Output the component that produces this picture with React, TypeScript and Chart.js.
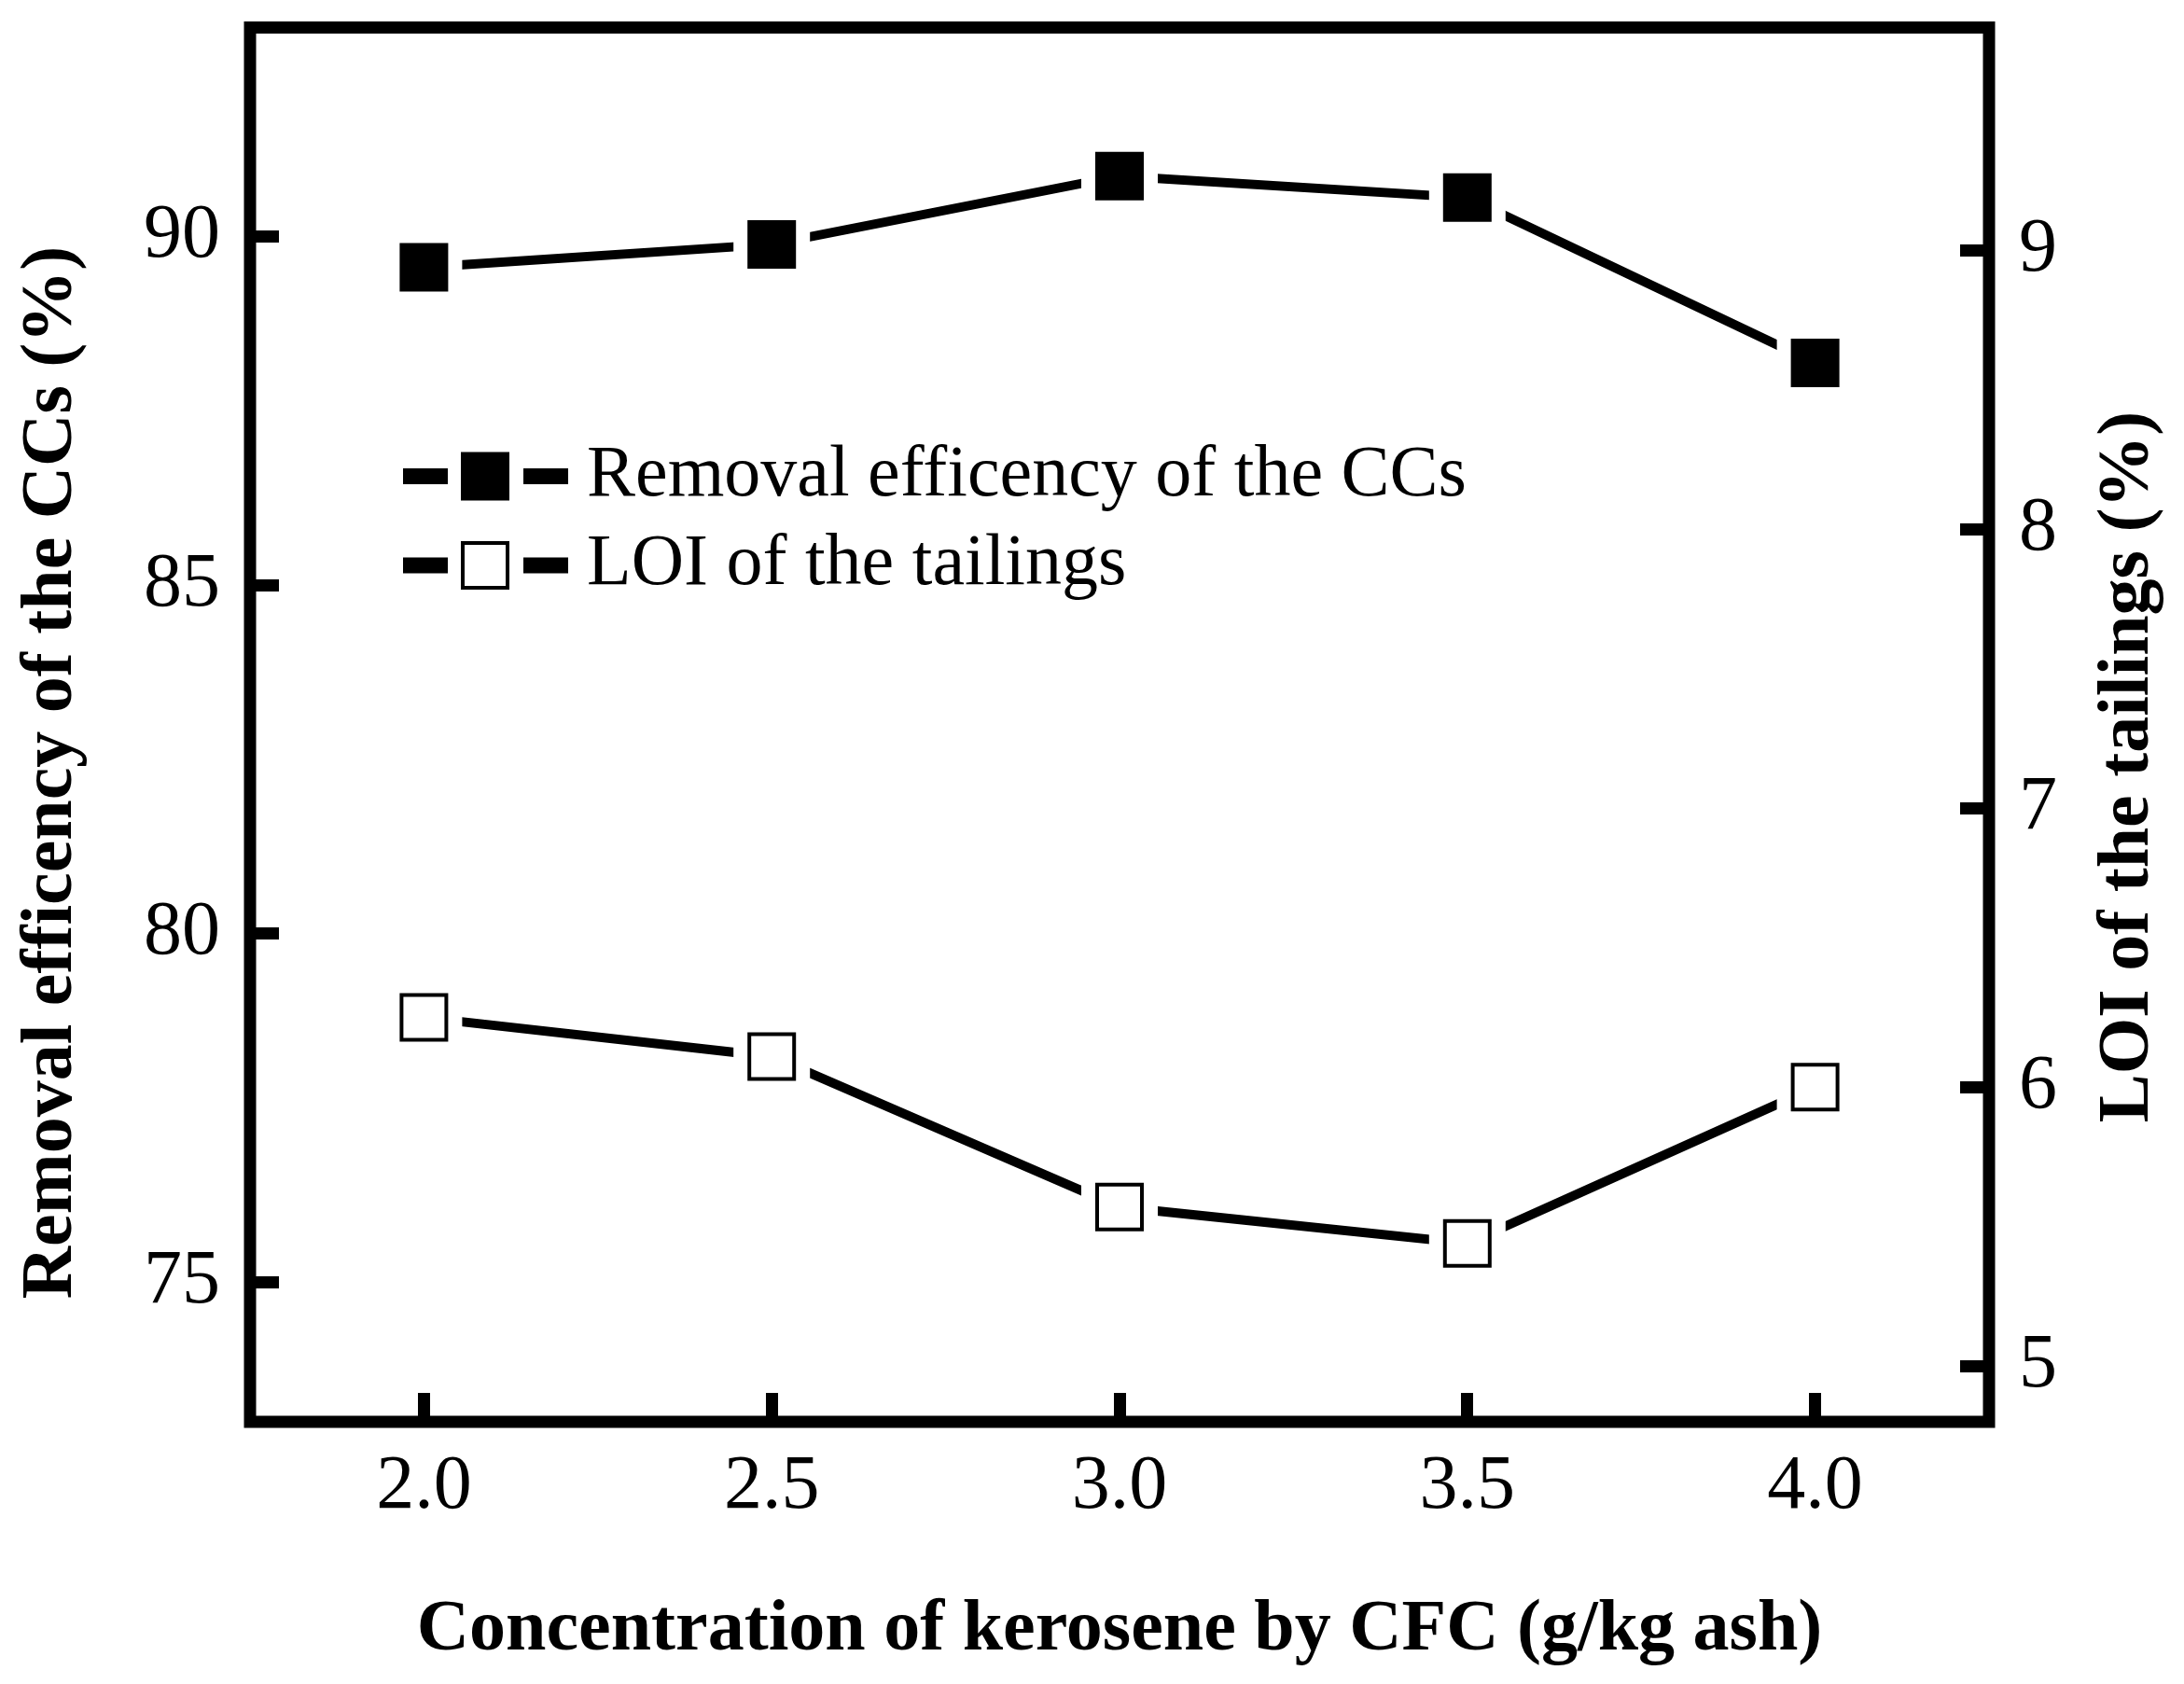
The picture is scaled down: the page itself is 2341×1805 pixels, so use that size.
import { useEffect, useRef } from 'react';
import { Chart, registerables } from 'chart.js';

Chart.register(...registerables);

// data
const concentration = [2.0, 2.5, 3.0, 3.5, 4.0];
const removalEfficiency = [89.56, 89.89, 90.87, 90.56, 88.19];
const loiTailings = [6.25, 6.11, 5.57, 5.44, 6.0];

const xTicks = [2.0, 2.5, 3.0, 3.5, 4.0];
const leftTicks = [75, 80, 85, 90];
const rightTicks = [5, 6, 7, 8, 9];

const seriesLabels = ['Removal efficency of the CCs', 'LOI of the tailings'];
const xTitle = 'Concentration of kerosene by CFC (g/kg ash)';
const leftTitle = 'Removal efficency of the CCs (%)';
const rightTitle = 'LOI of the tailings (%)';

const FONT = "'Liberation Serif', 'Times New Roman', serif";
const FRAME = 13;
const MARK = 52; // marker side in px
const GAP = 15; // white gap between line and marker

const rectRadius = (side: number) => side / Math.SQRT2;

const framePlugin = {
  id: 'frame',
  afterDraw(chart: any) {
    const { ctx, chartArea: a } = chart;
    ctx.save();
    ctx.strokeStyle = '#000';
    ctx.lineWidth = FRAME;
    ctx.lineJoin = 'miter';
    ctx.strokeRect(a.left, a.top, a.right - a.left, a.bottom - a.top);
    ctx.restore();
  },
};

const titlesPlugin = {
  id: 'titles',
  afterDraw(chart: any) {
    const { ctx, chartArea: a } = chart;
    ctx.save();
    ctx.fillStyle = '#000';
    ctx.font = `bold 78px ${FONT}`;
    ctx.textAlign = 'center';
    ctx.textBaseline = 'alphabetic';
    ctx.fillText(xTitle, (a.left + a.right) / 2, 1768);

    ctx.translate(76, 828);
    ctx.rotate(-Math.PI / 2);
    ctx.fillText(leftTitle, 0, 0);
    ctx.restore();

    ctx.save();
    ctx.fillStyle = '#000';
    ctx.font = `bold 78px ${FONT}`;
    ctx.textAlign = 'center';
    ctx.textBaseline = 'alphabetic';
    ctx.translate(2302, 822);
    ctx.rotate(-Math.PI / 2);
    ctx.fillText(rightTitle, 0, 0);
    ctx.restore();
  },
};

const legendPlugin = {
  id: 'figLegend',
  afterDraw(chart: any) {
    const { ctx, chartArea: a } = chart;
    const x0 = a.left + 164;
    ctx.save();
    ctx.font = `78px ${FONT}`;
    ctx.textBaseline = 'middle';
    ctx.textAlign = 'left';
    seriesLabels.forEach((label, i) => {
      const cy = a.top + 481 + i * 95.5;
      ctx.fillStyle = '#000';
      ctx.fillRect(x0, cy - 8.5, 48, 17);
      ctx.fillRect(x0 + 129, cy - 8.5, 48, 17);
      if (i === 0) {
        ctx.fillRect(x0 + 62, cy - MARK / 2, MARK, MARK);
      } else {
        ctx.lineWidth = 4;
        ctx.strokeStyle = '#000';
        ctx.strokeRect(x0 + 64, cy - MARK / 2 + 2, MARK - 4, MARK - 4);
      }
      ctx.fillStyle = '#000';
      ctx.fillText(label, x0 + 197, cy);
    });
    ctx.restore();
  },
};

const tickFont = { family: FONT, size: 82 };
const gridOpts = {
  drawOnChartArea: false,
  drawTicks: true,
  tickLength: -31,
  tickWidth: 13,
  color: '#000',
};

export default function App() {
  const canvasRef = useRef<HTMLCanvasElement>(null);

  useEffect(() => {
    document.body.style.margin = '0';
    if (!canvasRef.current) return;

    const removalPoints = concentration.map((x, i) => ({ x, y: removalEfficiency[i] }));
    const loiPoints = concentration.map((x, i) => ({ x, y: loiTailings[i] }));

    const chart = new Chart(canvasRef.current, {
      type: 'line',
      data: {
        datasets: [
          {
            label: seriesLabels[0],
            data: removalPoints,
            yAxisID: 'y',
            borderColor: '#000',
            borderWidth: 10,
            tension: 0,
            pointStyle: 'rect',
            pointRadius: rectRadius(MARK + GAP),
            pointBackgroundColor: '#000',
            pointBorderColor: '#fff',
            pointBorderWidth: GAP,
            order: 1,
          },
          {
            label: seriesLabels[1],
            data: loiPoints,
            yAxisID: 'y1',
            borderColor: '#000',
            borderWidth: 10,
            tension: 0,
            pointStyle: 'rect',
            pointRadius: rectRadius(MARK + GAP),
            pointBackgroundColor: '#fff',
            pointBorderColor: '#fff',
            pointBorderWidth: GAP,
            order: 1,
          },
          {
            // open square marker drawn on top of the white gap
            label: 'loi-marker',
            data: loiPoints,
            yAxisID: 'y1',
            showLine: false,
            pointStyle: 'rect',
            pointRadius: rectRadius(MARK - 4),
            pointBackgroundColor: '#fff',
            pointBorderColor: '#000',
            pointBorderWidth: 4,
            order: 0,
          },
        ],
      },
      options: {
        animation: false,
        responsive: true,
        maintainAspectRatio: false,
        layout: { autoPadding: false, padding: { top: 29.5, left: 0, right: 0, bottom: 0 } },
        plugins: {
          legend: { display: false },
          tooltip: { enabled: false },
        },
        scales: {
          x: {
            type: 'linear',
            position: 'bottom',
            min: 1.75,
            max: 4.25,
            afterBuildTicks: (s: any) => {
              s.ticks = xTicks.map((value) => ({ value }));
            },
            afterFit: (s: any) => {
              s.height = 281;
              s.paddingLeft = 0;
              s.paddingRight = 0;
            },
            border: { display: false },
            grid: gridOpts,
            ticks: {
              autoSkip: false,
              maxRotation: 0,
              padding: 52,
              color: '#000',
              font: tickFont,
              callback: (v: any) => Number(v).toFixed(1),
            },
          },
          y: {
            type: 'linear',
            position: 'left',
            min: 73,
            max: 93,
            afterBuildTicks: (s: any) => {
              s.ticks = leftTicks.map((value) => ({ value }));
            },
            afterFit: (s: any) => {
              s.width = 268;
              s.paddingTop = 0;
              s.paddingBottom = 0;
            },
            border: { display: false },
            grid: gridOpts,
            ticks: {
              padding: 63,
              color: '#000',
              font: tickFont,
              callback: (v: any) => String(v),
            },
          },
          y1: {
            type: 'linear',
            position: 'right',
            min: 4.8,
            max: 9.8,
            afterBuildTicks: (s: any) => {
              s.ticks = rightTicks.map((value) => ({ value }));
            },
            afterFit: (s: any) => {
              s.width = 209;
              s.paddingTop = 0;
              s.paddingBottom = 0;
            },
            border: { display: false },
            grid: gridOpts,
            ticks: {
              padding: 63,
              color: '#000',
              font: tickFont,
              callback: (v: any) => String(v),
            },
          },
        },
      },
      plugins: [framePlugin, titlesPlugin, legendPlugin],
    });

    return () => chart.destroy();
  }, []);

  return (
    <div style={{ width: '2341px', height: '1805px', position: 'relative', background: '#fff' }}>
      <canvas ref={canvasRef} />
    </div>
  );
}
